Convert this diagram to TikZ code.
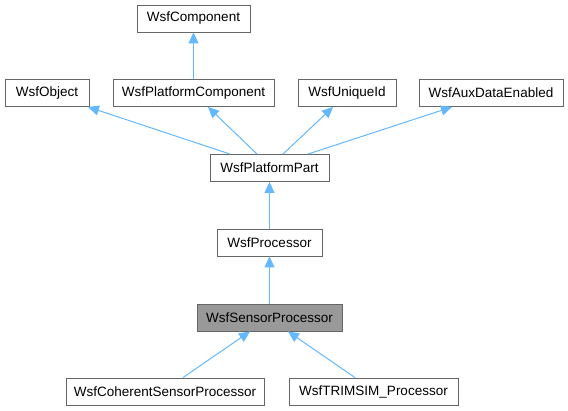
\documentclass[tikz,border=0pt]{standalone}
\usepackage{fontspec}
\setmainfont{Liberation Sans}
\usetikzlibrary{arrows.meta}
\definecolor{myblue}{RGB}{99,184,255}
\definecolor{myframe}{RGB}{102,102,102}
\definecolor{myfill}{RGB}{153,153,153}
\tikzset{
    cls/.style={draw=myframe, fill=white, line width=0.9pt, minimum height=27pt,
        inner sep=0pt, font=\fontsize{13.5}{16}\selectfont},
    base/.style={cls, fill=myfill},
    inherit/.style={draw=myblue, line width=1pt,
        -{Triangle[length=11pt, width=10pt]}}
}
\begin{document}
\begin{tikzpicture}[x=1pt, y=-1pt]
    \useasboundingbox (0, 0) rectangle (568, 411);
    % Classes
    \node[cls, minimum width=113pt] (Comp) at (193.5, 18.5) {WsfComponent};
    \node[cls, minimum width=84pt] (Obj) at (47, 93) {WsfObject};
    \node[cls, minimum width=161pt] (PlatComp) at (193.5, 93) {WsfPlatformComponent};
    \node[cls, minimum width=98pt] (UniqueId) at (347, 93) {WsfUniqueId};
    \node[cls, minimum width=144pt] (AuxData) at (491, 93) {WsfAuxDataEnabled};
    \node[cls, minimum width=119pt] (PlatPart) at (269.5, 168) {WsfPlatformPart};
    \node[cls, minimum width=105pt] (Proc) at (269.5, 242.5) {WsfProcessor};
    \node[base, minimum width=145pt] (SensorProc) at (269.5, 317.5) {WsfSensorProcessor};
    \node[cls, minimum width=198pt] (Coherent) at (165, 391.5) {WsfCoherentSensorProcessor};
    \node[cls, minimum width=169pt] (Trimsim) at (373.5, 391.5) {WsfTRIMSIM\_Processor};
    % Inheritance
    \draw[inherit] (PlatComp.north) -- (Comp.south);
    \draw[inherit] ([xshift=-39.5pt]PlatPart.north) -- ([xshift=41pt]Obj.south);
    \draw[inherit] ([xshift=-12.5pt]PlatPart.north) -- ([xshift=14.5pt]PlatComp.south);
    \draw[inherit] ([xshift=13.5pt]PlatPart.north) -- ([xshift=-14pt]UniqueId.south);
    \draw[inherit] ([xshift=38.5pt]PlatPart.north) -- ([xshift=-39pt]AuxData.south);
    \draw[inherit] (Proc.north) -- (PlatPart.south);
    \draw[inherit] (SensorProc.north) -- (Proc.south);
    \draw[inherit] ([xshift=18pt]Coherent.north) -- ([xshift=-19.5pt]SensorProc.south);
    \draw[inherit] ([xshift=-18.5pt]Trimsim.north) -- ([xshift=18.5pt]SensorProc.south);
\end{tikzpicture}
\end{document}
